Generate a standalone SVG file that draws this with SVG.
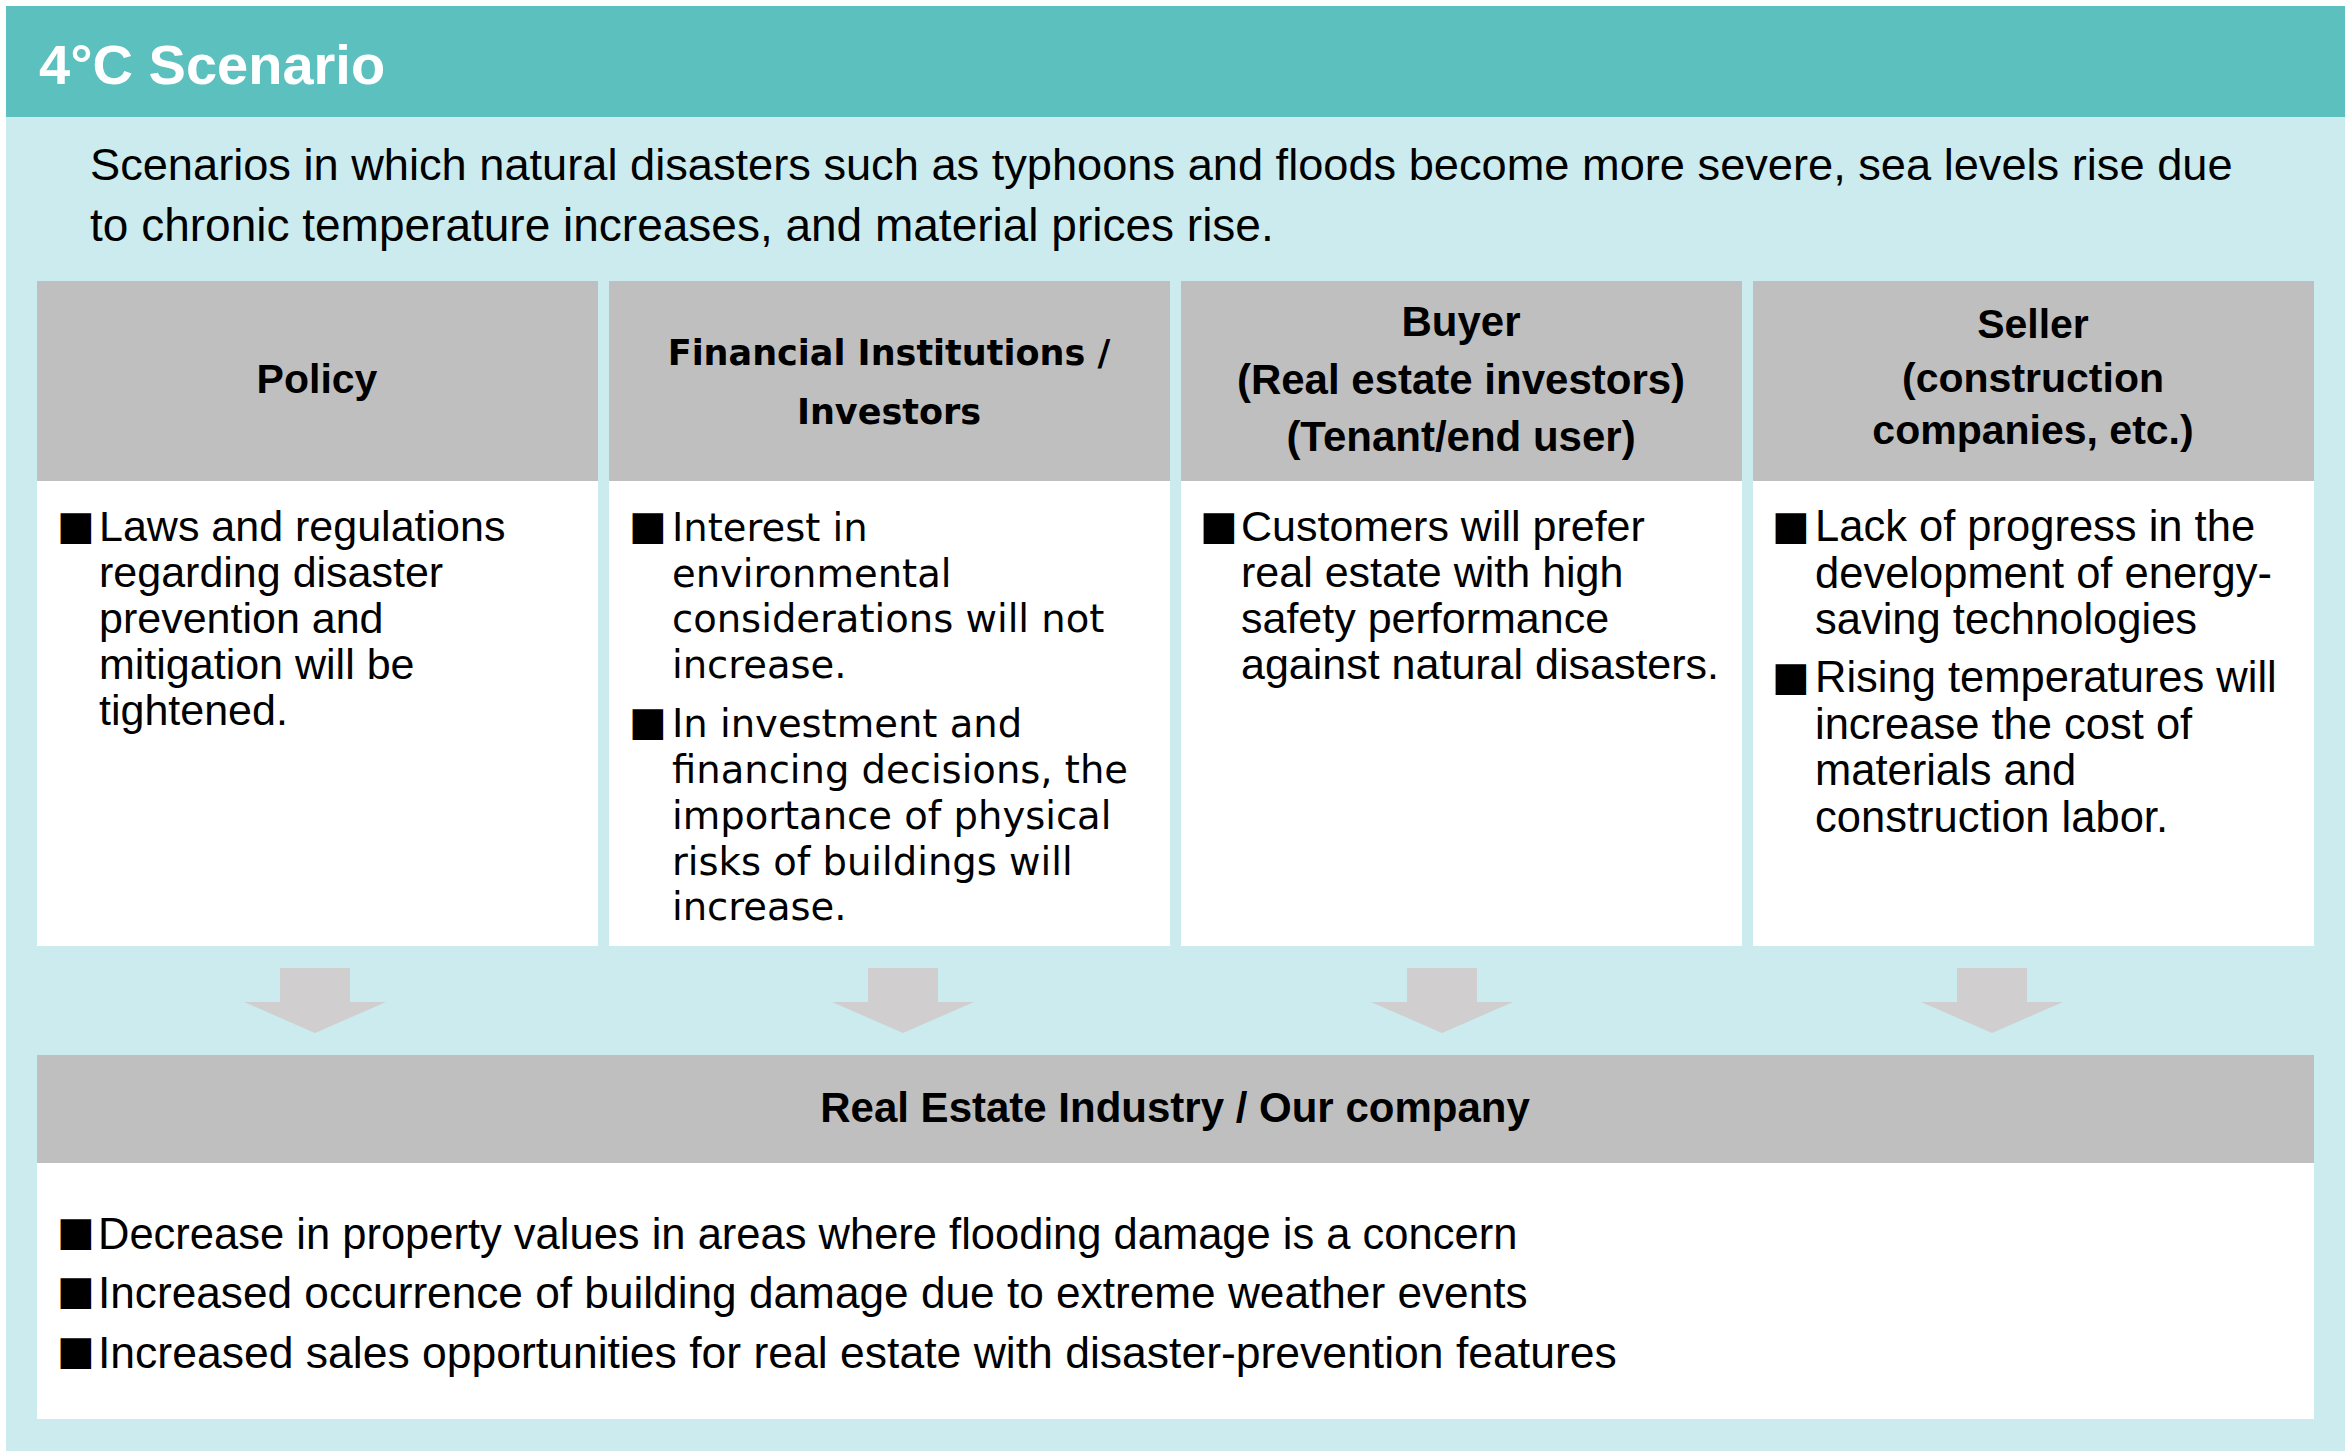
<svg xmlns="http://www.w3.org/2000/svg" width="2345" height="1451" viewBox="0 0 2345 1451">
<defs>
<style>
.bg{fill:#CBEBEE}
.band{fill:#5BC0BE}
.hdr{fill:#BFBFBF}
.body{fill:#FFFFFF}
.arrow{fill:#D0CECE}
.title{font-family:"Liberation Sans",Arial,sans-serif;font-weight:bold;font-size:56px;fill:#FFFFFF}
.desc{font-family:"Liberation Sans",Arial,sans-serif;font-size:46px;fill:#000}
.h{font-family:"Liberation Sans",Arial,sans-serif;font-weight:bold;font-size:41px;fill:#000;text-anchor:middle}
.t{font-family:"Liberation Sans",Arial,sans-serif;font-size:43px;fill:#000}
.tb{font-family:"Liberation Sans",Arial,sans-serif;font-size:43.5px;fill:#000}
.fh{font-family:"DejaVu Sans",Verdana,sans-serif;font-weight:bold;font-size:35px;fill:#000;text-anchor:middle}
.ft{font-family:"DejaVu Sans",Verdana,sans-serif;font-size:38.5px;fill:#000}
.bul{font-family:"DejaVu Sans",sans-serif;font-size:40px;fill:#000}
</style>
</defs>
<rect class="bg" x="6" y="6" width="2339" height="1445"/>
<g id="title">
<rect class="band" x="6" y="6" width="2339" height="111"/>
<text class="title" x="39" y="84">4°C Scenario</text>
</g>
<g id="description">
<text class="desc" x="90" y="180" style="font-size:45.2px">Scenarios in which natural disasters such as typhoons and floods become more severe, sea levels rise due</text>
<text class="desc" x="90" y="241">to chronic temperature increases, and material prices rise.</text>
</g>
<g id="policy">
<rect class="hdr" x="37" y="281" width="561" height="200"/>
<rect class="body" x="37" y="481" width="561" height="465"/>
<text class="h" x="317" y="393">Policy</text>
<text class="bul" x="57" y="539">■</text>
<text class="t" x="99" y="541">Laws and regulations</text>
<text class="t" x="99" y="587">regarding disaster</text>
<text class="t" x="99" y="633">prevention and</text>
<text class="t" x="99" y="679">mitigation will be</text>
<text class="t" x="99" y="725">tightened.</text>
</g>
<g id="financial">
<rect class="hdr" x="609" y="281" width="561" height="200"/>
<rect class="body" x="609" y="481" width="561" height="465"/>
<text class="fh" x="889" y="365">Financial Institutions /</text>
<text class="fh" x="889" y="424">Investors</text>
<text class="bul" x="629" y="539">■</text>
<text class="ft" x="672" y="541">Interest in</text>
<text class="ft" x="672" y="587">environmental</text>
<text class="ft" x="672" y="632">considerations will not</text>
<text class="ft" x="672" y="678">increase.</text>
<text class="bul" x="629" y="735">■</text>
<text class="ft" x="672" y="737">In investment and</text>
<text class="ft" x="672" y="783">financing decisions, the</text>
<text class="ft" x="672" y="829">importance of physical</text>
<text class="ft" x="672" y="875">risks of buildings will</text>
<text class="ft" x="672" y="920">increase.</text>
</g>
<g id="buyer">
<rect class="hdr" x="1181" y="281" width="561" height="200"/>
<rect class="body" x="1181" y="481" width="561" height="465"/>
<text class="h" x="1461" y="336" style="font-size:42px">Buyer</text>
<text class="h" x="1461" y="394" style="font-size:42px">(Real estate investors)</text>
<text class="h" x="1461" y="451" style="font-size:42px">(Tenant/end user)</text>
<text class="bul" x="1200" y="539">■</text>
<text class="t" x="1241" y="541">Customers will prefer</text>
<text class="t" x="1241" y="587">real estate with high</text>
<text class="t" x="1241" y="633">safety performance</text>
<text class="t" x="1241" y="679">against natural disasters.</text>
</g>
<g id="seller">
<rect class="hdr" x="1753" y="281" width="561" height="200"/>
<rect class="body" x="1753" y="481" width="561" height="465"/>
<text class="h" x="2033" y="338">Seller</text>
<text class="h" x="2033" y="392">(construction</text>
<text class="h" x="2033" y="444">companies, etc.)</text>
<text class="bul" x="1772" y="539">■</text>
<text class="t" x="1815" y="541" style="font-size:43.5px">Lack of progress in the</text>
<text class="t" x="1815" y="588" style="font-size:43.5px">development of energy-</text>
<text class="t" x="1815" y="634" style="font-size:43.5px">saving technologies</text>
<text class="bul" x="1772" y="690">■</text>
<text class="t" x="1815" y="692" style="font-size:43.5px">Rising temperatures will</text>
<text class="t" x="1815" y="739" style="font-size:43.5px">increase the cost of</text>
<text class="t" x="1815" y="785" style="font-size:43.5px">materials and</text>
<text class="t" x="1815" y="832" style="font-size:43.5px">construction labor.</text>
</g>
<g id="connectors">
<polygon class="arrow" points="280,968 350,968 350,1002 386,1002 315,1033 244,1002 280,1002"/>
<polygon class="arrow" points="868,968 938,968 938,1002 974,1002 903,1033 832,1002 868,1002"/>
<polygon class="arrow" points="1407,968 1477,968 1477,1002 1513,1002 1442,1033 1371,1002 1407,1002"/>
<polygon class="arrow" points="1957,968 2027,968 2027,1002 2063,1002 1992,1033 1921,1002 1957,1002"/>
</g>
<g id="company">
<rect class="hdr" x="37" y="1055" width="2277" height="108"/>
<rect class="body" x="37" y="1163" width="2277" height="256"/>
<text class="h" x="1175" y="1122" style="font-size:42px">Real Estate Industry / Our company</text>
<text class="bul" x="57" y="1245">■</text>
<text class="tb" x="98" y="1249">Decrease in property values in areas where flooding damage is a concern</text>
<text class="bul" x="57" y="1304">■</text>
<text class="tb" x="98" y="1308" style="font-size:44.2px">Increased occurrence of building damage due to extreme weather events</text>
<text class="bul" x="57" y="1364">■</text>
<text class="tb" x="98" y="1368" style="font-size:44.5px">Increased sales opportunities for real estate with disaster-prevention features</text>
</g>
</svg>
